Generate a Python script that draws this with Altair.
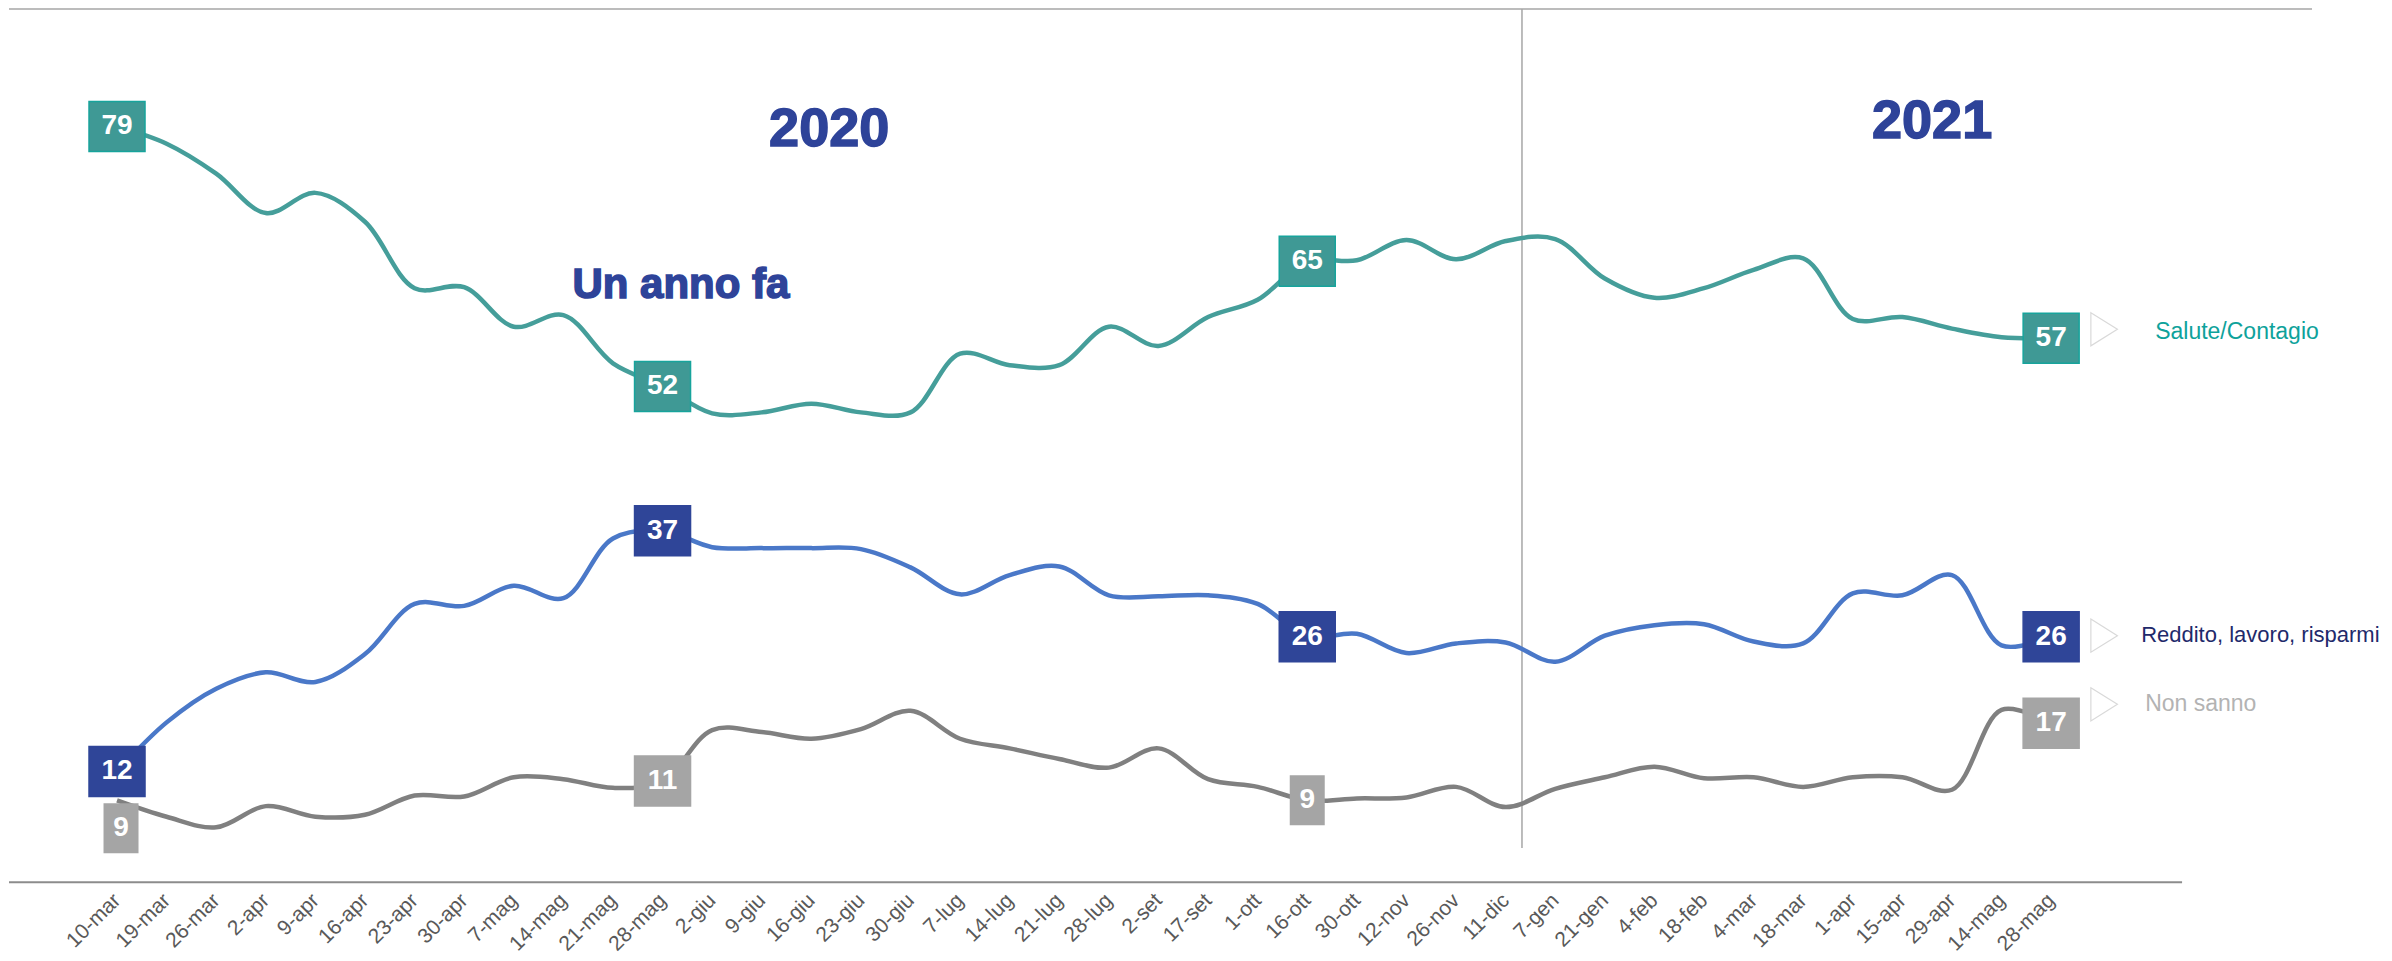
import altair as alt
import pandas as pd

dates = ["10-mar", "19-mar", "26-mar", "2-apr", "9-apr", "16-apr", "23-apr", "30-apr",
         "7-mag", "14-mag", "21-mag", "28-mag", "2-giu", "9-giu", "16-giu", "23-giu",
         "30-giu", "7-lug", "14-lug", "21-lug", "28-lug", "2-set", "17-set", "1-ott",
         "16-ott", "30-ott", "12-nov", "26-nov", "11-dic", "7-gen", "21-gen", "4-feb",
         "18-feb", "4-mar", "18-mar", "1-apr", "15-apr", "29-apr", "14-mag", "28-mag"]

salute = [79, 77.2, 74.1, 70.0, 72.1, 69.1, 62.2, 62.3, 58.2, 59.4, 54.4, 52,
          49.2, 49.3, 50.2, 49.3, 49.3, 55.4, 54.2, 54.2, 58.2, 56.2, 59.2, 61.0,
          65, 65.1, 67.2, 65.2, 67.1, 67.3, 63.2, 61.2, 62.2, 64.1, 65.3, 59.0,
          59.2, 58.0, 57.1, 57]
reddito = [12, 17.1, 20.6, 22.3, 21.3, 24.2, 29.4, 29.2, 31.3, 30.0, 36.2, 37,
           35.3, 35.2, 35.2, 35.1, 33.2, 30.4, 32.4, 33.3, 30.3, 30.2, 30.3, 29.4,
           26, 26.3, 24.3, 25.3, 25.4, 23.4, 26.1, 27.2, 27.3, 25.5, 25.3, 30.5,
           30.3, 32.4, 25.1, 26]
non_sanno = [9, 7.3, 6.2, 8.4, 7.3, 7.5, 9.5, 9.4, 11.4, 11.2, 10.3, 11,
             16.3, 16.1, 15.4, 16.4, 18.3, 15.4, 14.4, 13.3, 12.4, 14.4, 11.2, 10.4,
             9, 9.2, 9.3, 10.4, 8.3, 10.2, 11.4, 12.5, 11.3, 11.4, 10.4, 11.4,
             11.4, 10.1, 18.4, 17]

series_names = ["Salute/Contagio", "Reddito, lavoro, risparmi", "Non sanno"]
label_idx = [0, 11, 24, 39]

line_colors = ["#459E9A", "#4A78C8", "#808080"]
box_colors = ["#3F9995", "#2F4598", "#A5A5A5"]
box_strokes = ["#17A49C", "#2F4598", "#A5A5A5"]
name_colors = ["#0EA29B", "#1F2A6B", "#B3B3B3"]

rows = []
for name, vals in zip(series_names, [salute, reddito, non_sanno]):
    for i, v in enumerate(vals):
        rows.append({"i": i, "date": dates[i], "v": v, "s": name})
df = pd.DataFrame(rows)

lab = df[df["i"].isin(label_idx)].copy()
lab["txt"] = lab["v"].round(0).astype(int).astype(str)
is_narrow = (lab["s"] == "Non sanno") & (lab["i"].isin([0, 24]))
wide = lab[~is_narrow]
narrow_mid = lab[(lab["s"] == "Non sanno") & (lab["i"] == 24)]
narrow_first = lab[(lab["s"] == "Non sanno") & (lab["i"] == 0)]
last = df[df["i"] == 39].copy()

XDOM = [-2.178, 44.26]
YDOM = [0, 91.2]
xscale = alt.Scale(domain=XDOM, nice=False, zero=False)
yscale = alt.Scale(domain=YDOM, nice=False, zero=False)
label_expr = "[" + ",".join("'%s'" % d for d in dates) + "][datum.value]"
xaxis = alt.Axis(values=list(range(len(dates))), labelExpr=label_expr, title=None,
                 domain=False, ticks=False, grid=False, labelAngle=-45,
                 labelAlign="right", labelBaseline="middle", labelPadding=10,
                 labelFontSize=21, labelColor="#595959", labelFont="Liberation Sans",
                 labelOverlap=False, labelBound=False)

X = alt.X("i:Q", scale=xscale, axis=xaxis)
Y = alt.Y("v:Q", scale=yscale, axis=None)


def XD(v):
    return alt.XDatum(v, scale=xscale, axis=xaxis)


def YD(v):
    return alt.YDatum(v, scale=yscale, axis=None)


colS = alt.Color("s:N", scale=alt.Scale(domain=series_names, range=line_colors), legend=None)
fillS = alt.Fill("s:N", scale=alt.Scale(domain=series_names, range=box_colors), legend=None)
strokeS = alt.Stroke("s:N", scale=alt.Scale(domain=series_names, range=box_strokes), legend=None)

top_rule = alt.Chart().mark_rule(color="#A6A6A6", strokeWidth=1.5).encode(
    x=XD(XDOM[0]), x2=alt.X2Datum(XDOM[1]), y=YD(YDOM[1]))
bottom_rule = alt.Chart().mark_rule(color="#8C8C8C", strokeWidth=2).encode(
    x=XD(XDOM[0]), x2=alt.X2Datum(41.64), y=YD(0.5))
year_rule = alt.Chart().mark_rule(color="#A6A6A6", strokeWidth=1.5).encode(
    x=XD(28.33), y=YD(4.05), y2=alt.Y2Datum(YDOM[1]))

lines = alt.Chart(df).mark_line(interpolate="catmull-rom", strokeWidth=4.5).encode(
    x=X, y=Y, color=colS, detail="s:N", order="i:Q")

WIDE = "M-1.12,-1H1.12V1H-1.12Z"
NARROW = "M-0.7,-1H0.7V1H-0.7Z"

box_w = alt.Chart(wide).mark_point(shape=WIDE, size=2500, filled=True, opacity=1,
                                    strokeWidth=1.5).encode(x=X, y=Y, fill=fillS, stroke=strokeS)
box_n1 = alt.Chart(narrow_mid).mark_point(shape=NARROW, size=2500, filled=True, opacity=1,
                                           color=box_colors[2]).encode(x=X, y=Y)
box_n2 = alt.Chart(narrow_first).mark_point(shape=NARROW, size=2500, filled=True, opacity=1,
                                             color=box_colors[2], xOffset=4, yOffset=28).encode(x=X, y=Y)

tprops = dict(color="white", fontSize=28, fontWeight="bold", font="Liberation Sans",
              align="center", baseline="middle")
txt_w = alt.Chart(pd.concat([wide, narrow_mid])).mark_text(**tprops).encode(x=X, y=Y, text="txt:N")
txt_n2 = alt.Chart(narrow_first).mark_text(dx=4, dy=28, **tprops).encode(x=X, y=Y, text="txt:N")

tri_layers = []
name_layers = []
for name, col, toff, noff, ndx, fs in zip(series_names, name_colors, [-9, -1, -19],
                                          [-6, -2, -19], [104, 90, 94], [23, 22, 23]):
    sub = last[last["s"] == name]
    tri_layers.append(alt.Chart(sub).mark_point(
        shape="M-0.8,-1L0.8,0L-0.8,1Z", size=1100, filled=False, color="#D9D9D9",
        strokeWidth=1.2, opacity=1, xOffset=53, yOffset=toff).encode(x=X, y=Y))
    name_layers.append(alt.Chart(sub).mark_text(
        align="left", baseline="middle", fontSize=fs, font="Liberation Sans",
        color=col, dx=ndx, dy=noff).encode(x=X, y=Y, text="s:N"))

ann = dict(font="Liberation Sans", fontWeight="bold", color="#2E4399", align="center",
           baseline="middle", stroke="#2E4399", strokeWidth=1.5)
t2020 = alt.Chart().mark_text(fontSize=54, **ann).encode(x=XD(14.36), y=YD(78.6), text=alt.value("2020"))
t2021 = alt.Chart().mark_text(fontSize=54, **ann).encode(x=XD(36.6), y=YD(79.5), text=alt.value("2021"))
tanno = alt.Chart().mark_text(fontSize=42, **ann).encode(x=XD(11.37), y=YD(62.5), text=alt.value("Un anno fa"))

chart = alt.layer(
    top_rule, bottom_rule, year_rule, lines, box_w, box_n1, box_n2, txt_w, txt_n2,
    *tri_layers, *name_layers, t2020, t2021, tanno
).properties(width=2303, height=878, padding=0).configure_view(stroke=None)

chart.save("out.html", embed_options={"renderer": "svg", "actions": False})
